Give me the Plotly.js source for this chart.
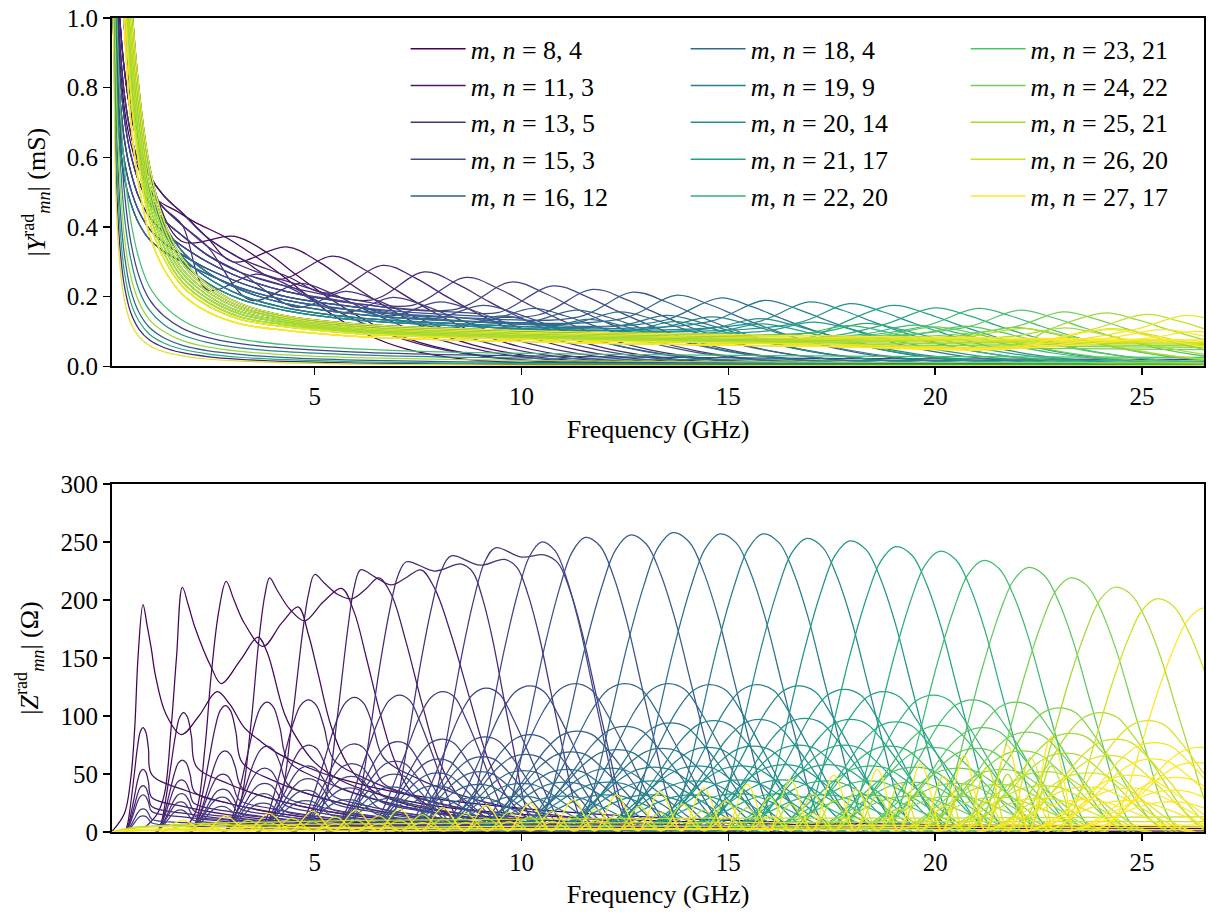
<!DOCTYPE html>
<html><head><meta charset="utf-8">
<script src="https://cdn.plot.ly/plotly-3.0.1.min.js"></script>
<style>body{margin:0;background:#fff}#chart{width:1208px;height:916px}</style>
</head><body><div id="chart"></div>
<script>
// ================= DATA =================
// legend labels (m, n)
const legendM = [8,11,13,15,16,18,19,20,21,22,23,24,25,26,27];
const legendN = [4,3,5,3,12,4,9,14,17,20,21,22,21,20,17];

// ---- |Z| panel: main resonances (GHz, Ohm) ----
const zMainF = [0.85,1.80,2.86,3.91,5.00,6.11,7.22,8.30,9.37,10.48,11.54,12.62,13.65,14.79,15.83,16.88,17.93,19.04,20.10,21.15,22.24,23.27,24.34,25.35,26.47];
const zMainV = [196,211,216,219,222,226,233,238,245,250,254,256,258,257,257,253,251,246,242,234,228,219,211,201,193];
// first six curves read point by point
const zEarlyF = [
 [0.1,0.4,0.55,0.65,0.73,0.85,0.95,1.05,1.15,1.4,1.78,2.2,2.64,2.95,3.3,3.7,4.1,4.8,5.6,7,9,12,16,21,26.5],
 [0.9,1.2,1.37,1.53,1.66,1.8,1.95,2.1,2.5,2.74,3.2,3.63,3.85,4.27,4.6,5.0,5.6,6.5,8,11,16,26.5],
 [1.9,2.15,2.34,2.5,2.68,2.86,3.05,3.3,3.75,4.2,4.6,4.85,5.08,5.4,5.8,6.3,7.2,9,13,26.5],
 [2.9,3.2,3.45,3.65,3.8,3.91,4.1,4.4,4.76,5.2,5.65,5.95,6.25,6.6,6.95,7.4,8.2,10,26.5],
 [3.8,4.15,4.45,4.7,4.85,5.0,5.25,5.55,5.9,6.25,6.55,6.85,7.2,7.6,8.0,8.5,9.2,11,26.5],
 [5.0,5.3,5.55,5.8,5.95,6.11,6.45,6.85,7.2,7.57,7.9,8.3,8.75,9.2,9.7,10.3,11.5]
];
const zEarlyV = [
 [0.5,16,45,90,151,196,178,158,135,102,84,100,121,110,90,78,68,56,46,34,24,15,9,6,4],
 [4,16,33,90,151,211,195,177,142,128,148,168,155,102,79,60,45,33,22,13,7,3],
 [4,20,70,136,190,216,200,180,160,180,194,170,137,91,58,38,24,14,7,2],
 [4,25,90,165,205,219,208,192,182,198,210,190,150,100,60,32,16,8,2],
 [5,25,95,170,205,222,214,205,201,210,219,205,165,110,62,30,12,4,1],
 [5,35,100,175,210,226,220,213,219,226,210,170,115,62,28,9,2]
];
// plateau dips / second humps of curves 7-9
const zDipF  = [7.9, 9.0, 10.0];
const zDipV  = [225, 230, 237];
const zHumpF = [8.55, 9.59, 10.55];
const zHumpV = [231, 235, 239];
// lower resonance families
const zF2 = [0.85,1.83,2.84,3.85,4.85,5.96,7.05,8.10,9.15,10.20,11.30,12.50,13.55,14.55,15.70,16.70,17.80,18.75,19.95,20.90,21.95,23.00,24.00,25.15];
const zV2 = [90,103,109,112,114,116,118,121,124,126,128,128,128,127,127,126,123,121,118,114,112,107,103,96];
const zF3 = [0.85,1.80,2.83,3.85,4.86,5.95,7.00,8.08,9.12,10.20,11.35,12.50,13.60,14.65,15.75,16.85,17.95,19.05,20.10,21.15,22.22,23.27,24.35,25.30,26.40];
const zV3 = [54,62,70,74,75,76,78,80,82,84,87,91,94,96,97,98,97,95,92,90,86,85,80,77,73];
const zF4 = [0.85,1.78,2.78,3.79,4.84,5.90,6.95,8.0,9.05,10.1,11.2,12.3,13.4,14.5,15.6,16.7,17.8,18.9,19.95,21.0,22.1,23.15,24.2,25.25,26.3];
const zV4 = [40,45,50,55,57,59,61,63,65,67,69,71,72,73,74,75,75,74,73,72,70,68,66,63,60];
const zF5 = [0.85,1.78,2.78,3.79,4.84,5.88,6.92,7.97,9.0,10.05,11.1,12.15,13.2,14.25,15.3,16.35,17.4,18.45,19.5,20.55,21.6,22.65,23.7,24.75,25.8];
const zV5 = [32,33,37,42,46,48,50,51,52,53,54,55,56,57,57,58,58,57,56,55,54,52,51,49,47];
const zF6 = [0.85,1.76,2.76,3.77,4.8,5.84,6.88,7.92,8.96,10.0,11.05,12.1,13.15,14.2,15.25,16.3,17.35,18.4,19.45,20.5,21.55,22.6,23.65,24.7,25.75];
const zV6 = [20,26,30,33,36,38,39,40,41,42,43,43,44,44,45,45,44,44,43,42,41,40,39,38,36];
const zF7 = [0.85,1.75,2.75,3.75,4.78,5.8,6.84,7.88,8.92,9.96,11.0,12.05,13.1,14.15,15.2,16.25,17.3,18.35,19.4,20.45,21.5,22.55,23.6,24.65,25.7];
const zV7 = [14,19,22,25,27,28,29,30,30,31,31,32,32,32,33,33,32,32,31,31,30,29,28,27,26];
// small side lobes of the last curves
const zSideF  = [1.82,2.85,3.9,4.95,6.0,7.05,8.1,9.15,10.2,11.25,12.3,13.35,14.4,15.45,16.5,17.55,18.6,19.65,20.7,21.75,22.8];
const zSide1  = [10,14,16,18,19,20,21,23,25,28,32,35,38,41,45,49,54,59,66,75,82];
const zSide3  = [5,7,8,9,10,10,11,12,13,14,15,17,19,21,24,27,31,36,42,50,57];
const zSide2F = [2.35,3.4,4.45,5.5,6.55,7.6,8.65,9.7,10.75,11.8,12.85,13.9,14.95,16.0,17.05,18.1,19.15,20.2,21.25,22.3];
const zSide2  = [7,10,12,13,14,15,16,17,18,20,22,24,27,30,33,37,42,48,56,64];
const zSide4  = [3,5,6,7,7,8,8,9,9,10,11,12,13,14,16,18,20,23,27,32];
// near-zero floor curves
const zFloorF = [0.1,0.6,1.5,3,6,10,15,20,26.5];
const zFloor = [
 [0,2,3,4,4,5,5,6,6],
 [0,1,2,2,3,3,3,4,4],
 [0,3,5,6,7,8,8,9,9],
 [0,1,1,1,1,2,2,2,2],
 [0,4,6,8,10,11,12,12,13]
];

// ---- |Y| panel (mS) ----
const yBandF = [0.1,0.13,0.17,0.22,0.3,0.4,0.55,0.75,1.0,1.35,1.8,2.4,3.2,4.3,6.0,8.5,12,17,22,26.5];
// decay lines, from the highest (purple) to the lowest (yellow) level
const yU1 = [1.9,1.6,1.35,1.15,0.98,0.85,0.73,0.63,0.55,0.49,0.44,0.37,0.31,0.26,0.22,0.19,0.16,0.14,0.13,0.12];
const yU2 = [1.75,1.47,1.25,1.07,0.91,0.78,0.67,0.58,0.51,0.455,0.405,0.345,0.29,0.245,0.205,0.175,0.15,0.133,0.124,0.115];
const yU3 = [1.6,1.35,1.15,0.98,0.83,0.71,0.61,0.53,0.47,0.42,0.375,0.32,0.27,0.23,0.19,0.165,0.142,0.127,0.118,0.11];
const yU4 = [1.45,1.22,1.04,0.89,0.76,0.65,0.56,0.485,0.43,0.385,0.345,0.3,0.255,0.215,0.18,0.155,0.135,0.12,0.112,0.105];
const yU5 = [1.3,1.1,0.94,0.81,0.69,0.59,0.51,0.445,0.395,0.355,0.32,0.28,0.24,0.2,0.17,0.147,0.128,0.115,0.107,0.1];
const yU6 = [1.15,0.98,0.84,0.73,0.63,0.54,0.47,0.41,0.365,0.33,0.3,0.265,0.225,0.19,0.16,0.14,0.122,0.11,0.102,0.095];
const yM1 = [3.0,2.4,1.9,1.55,1.22,0.97,0.77,0.62,0.5,0.41,0.33,0.27,0.22,0.18,0.15,0.13,0.115,0.105,0.098,0.093];
const yM2 = [3.5,2.8,2.2,1.75,1.36,1.06,0.82,0.64,0.51,0.4,0.315,0.255,0.205,0.168,0.14,0.122,0.108,0.099,0.093,0.088];
const yM3 = [4.2,3.3,2.55,2.0,1.52,1.16,0.87,0.66,0.5,0.39,0.3,0.24,0.193,0.16,0.133,0.116,0.103,0.094,0.088,0.083];
const yK = [
 [6,4.6,3.5,2.7,2.0,1.5,1.09,0.8,0.58,0.42,0.31,0.235,0.18,0.145,0.122,0.108,0.097,0.088,0.081,0.076],
 [5.7,4.4,3.35,2.57,1.9,1.42,1.03,0.76,0.55,0.4,0.295,0.225,0.172,0.14,0.117,0.103,0.093,0.084,0.077,0.072],
 [5.5,4.2,3.2,2.45,1.8,1.35,0.98,0.72,0.52,0.38,0.28,0.215,0.165,0.135,0.112,0.099,0.089,0.08,0.074,0.069],
 [5.2,4.0,3.05,2.32,1.71,1.28,0.93,0.68,0.495,0.362,0.268,0.205,0.157,0.13,0.108,0.095,0.085,0.077,0.071,0.066],
 [5,3.8,2.9,2.2,1.62,1.21,0.88,0.65,0.47,0.345,0.255,0.195,0.15,0.125,0.104,0.091,0.081,0.073,0.067,0.063],
 [4.7,3.6,2.75,2.1,1.54,1.15,0.83,0.61,0.445,0.327,0.242,0.185,0.142,0.119,0.099,0.087,0.077,0.069,0.063,0.059],
 [4.5,3.45,2.6,2.0,1.46,1.09,0.79,0.58,0.42,0.31,0.23,0.175,0.135,0.113,0.094,0.082,0.072,0.064,0.058,0.054],
 [4,3.1,2.35,1.8,1.31,0.98,0.71,0.52,0.38,0.28,0.207,0.157,0.122,0.103,0.086,0.075,0.066,0.058,0.052,0.048]
];
const yL = [
 [1.6,1.0,0.62,0.42,0.28,0.19,0.125,0.085,0.06,0.042,0.03,0.021,0.015,0.01,0.006,0.004,0.003,0.002,0.002,0.002],
 [1.75,1.12,0.72,0.49,0.33,0.23,0.155,0.107,0.076,0.054,0.039,0.028,0.02,0.014,0.009,0.006,0.005,0.004,0.003,0.003],
 [1.9,1.24,0.82,0.57,0.39,0.27,0.185,0.13,0.093,0.067,0.049,0.036,0.026,0.019,0.013,0.009,0.007,0.006,0.005,0.005],
 [2.05,1.36,0.92,0.65,0.45,0.32,0.22,0.155,0.112,0.082,0.06,0.045,0.034,0.025,0.018,0.013,0.01,0.008,0.007,0.007],
 [2.2,1.48,1.02,0.73,0.52,0.37,0.26,0.185,0.135,0.1,0.074,0.056,0.043,0.033,0.025,0.019,0.015,0.012,0.011,0.01],
 [2.35,1.6,1.12,0.82,0.59,0.43,0.31,0.22,0.162,0.12,0.09,0.069,0.053,0.042,0.033,0.026,0.021,0.018,0.016,0.015],
 [2.5,1.72,1.22,0.91,0.67,0.5,0.36,0.26,0.193,0.145,0.109,0.083,0.065,0.052,0.041,0.033,0.027,0.023,0.021,0.02],
 [2.65,1.85,1.33,1.0,0.75,0.57,0.42,0.31,0.23,0.175,0.132,0.1,0.078,0.062,0.05,0.04,0.034,0.03,0.027,0.026]
];
const yTopF = [0.1,0.14,0.2,0.3,0.45,0.7,0.95,1.17,1.7,2.1,2.9,3.71,4.27,4.76,5.4,6.2,7.2,8.5,10.5,14];
const yTopV = [1.7,1.35,1.08,0.86,0.7,0.58,0.52,0.48,0.443,0.414,0.367,0.304,0.256,0.209,0.15,0.095,0.05,0.022,0.008,0.002];
const yHumpF = [3.07,4.32,5.44,6.65,7.65,8.66,9.75,10.76,11.72,12.69,13.74,14.79,15.87,16.96,17.93,18.98,19.99,21.03,22.04,23.09,24.1,25.1,26.07];
const yHumpV = [0.373,0.343,0.316,0.290,0.271,0.255,0.242,0.231,0.221,0.213,0.204,0.196,0.189,0.185,0.180,0.175,0.168,0.166,0.161,0.156,0.153,0.149,0.146];
const yTroughV = [0.36,0.30,0.25,0.21,0.19,0.175,0.165,0.155,0.148,0.142,0.137,0.133,0.129,0.126,0.123,0.12,0.117,0.115,0.112,0.11,0.108,0.106,0.104];
const yH2F = [3.6,4.65,5.75,6.9,8.02,9.06,10.27,11.32,12.37,13.5,14.6,15.75,17.04,18.33,19.5,20.7,21.9,23.1,24.3,25.5];
const yH2V = [0.265,0.238,0.215,0.198,0.185,0.175,0.166,0.161,0.156,0.146,0.142,0.137,0.127,0.123,0.118,0.115,0.112,0.11,0.108,0.105];
const yH2Tr = [0.22,0.19,0.17,0.155,0.145,0.137,0.13,0.126,0.122,0.115,0.112,0.108,0.1,0.097,0.093,0.091,0.089,0.087,0.085,0.083];
const yH3F = [9.5,11.6,13.7,15.8,17.9,20.0,22.1,24.2,26.3];
const yH3V = [0.145,0.135,0.128,0.122,0.117,0.113,0.109,0.105,0.1];
const yH3Tr = [0.11,0.105,0.1,0.096,0.092,0.09,0.087,0.084,0.08];

// resonance shape tables (offset GHz, fraction of peak)
const profMainL = [[-2.4,0],[-2.1,0.06],[-1.8,0.2],[-1.5,0.38],[-1.1,0.62],[-0.7,0.82],[-0.35,0.95]];
const profMainR = [[0.4,0.97],[0.75,0.87],[1.1,0.72],[1.5,0.5],[1.9,0.28],[2.2,0.12],[2.5,0.03],[2.8,0]];
const profFam = [[-2.6,0],[-2.2,0.1],[-1.8,0.28],[-1.3,0.55],[-0.8,0.82],[-0.4,0.96],[0,1],[0.4,0.96],[0.8,0.8],[1.3,0.55],[1.8,0.28],[2.2,0.1],[2.6,0]];
const profTail = [[0.8,0.4],[1.8,0.28],[3.2,0.17],[5.5,0.08],[9,0.03]];
const yPost = [[0.8,0.87],[1.5,0.7],[2.3,0.52],[3.3,0.33],[4.5,0.18],[6,0.08],[8,0.03],[11,0.01]];

// ================= STYLE / BUILD =================
const VIR = [[0,'#440154'],[0.1,'#482475'],[0.2,'#414487'],[0.3,'#355f8d'],[0.4,'#2a788e'],[0.5,'#21918c'],[0.6,'#22a884'],[0.7,'#44bf70'],[0.8,'#7ad151'],[0.9,'#bddf26'],[1,'#fde725']];
function h2r(h){return [parseInt(h.substr(1,2),16),parseInt(h.substr(3,2),16),parseInt(h.substr(5,2),16)];}
function viridis(t){t=Math.max(0,Math.min(1,t));
 for(let i=0;i<VIR.length-1;i++){ if(t<=VIR[i+1][0]){const a=h2r(VIR[i][1]),b=h2r(VIR[i+1][1]);const u=(t-VIR[i][0])/(VIR[i+1][0]-VIR[i][0]);
  return 'rgb('+a.map((v,k)=>Math.round(v+(b[k]-v)*u)).join(',')+')';}}
 return VIR[VIR.length-1][1];}
const tOf = f => Math.min(1, Math.pow(f/26.5, 1.7));

const zCurves=[], yCurves=[];
// main Z curves
zMainF.forEach((P,i)=>{
  const V=zMainV[i]; let xs=[], ys=[];
  if(i<zEarlyF.length){ xs=zEarlyF[i].slice(); ys=zEarlyV[i].slice(); }
  else {
    const w=Math.min(1,0.04+0.075*P);
    profMainL.forEach(([o,f])=>{xs.push(P+o*w); ys.push(V*f);});
    xs.push(P); ys.push(V);
    let Pe=P, Ve=V; const k=i-zEarlyF.length;
    if(k<zDipF.length){ xs.push(zDipF[k]); ys.push(zDipV[k]); xs.push(zHumpF[k]); ys.push(zHumpV[k]); Pe=zHumpF[k]; Ve=zHumpV[k]; }
    const w2=Math.min(1,0.04+0.075*Pe);
    profMainR.forEach(([o,f])=>{xs.push(Pe+o*w2); ys.push(Ve*f);});
  }
  zCurves.push({x:xs,y:ys,t:tOf(P)});
});
// lower families
[[zF2,zV2],[zF3,zV3],[zF4,zV4],[zF5,zV5],[zF6,zV6],[zF7,zV7]].forEach(([F,V],k)=>{
  F.forEach((P,j)=>{
    const h=V[j], w=Math.min(1,0.1+0.075*P), xs=[], ys=[];
    profFam.forEach(([o,f])=>{ if(P<6 && o>1.3) return; xs.push(P+o*w); ys.push(h*f); });
    if(P<6){ const b=P+1.3*w; profTail.forEach(([o,f])=>{xs.push(b+o); ys.push(h*f);}); }
    zCurves.push({x:xs,y:ys,t:Math.min(1,tOf(P)+0.03*(k+1))});
  });
});
// side lobes
const sideSets=[[zSideF,zSide1],[zSide2F,zSide2],[zSideF,zSide3],[zSide2F,zSide4]];
const sideT=[1.0,0.94,0.89,0.97];
sideSets.forEach(([F,H],k)=>{
  const xs=[F[0]-0.52], ys=[0];
  F.forEach((f,j)=>{ xs.push(f); ys.push(H[j]); xs.push(f+0.52); ys.push(1); });
  zCurves.push({x:xs,y:ys,t:sideT[k]});
});
const floorT=[1.0,0.97,0.93,0.99,0.9];
zFloor.forEach((v,k)=>zCurves.push({x:zFloorF,y:v,t:floorT[k]}));

// Y curves
yCurves.push({x:yTopF,y:yTopV,t:0});
const preLines=[yU1,yU2,yU3,yU4,yU5,yU6,yM1,yM2,yM3].concat(yK);
const humps=[];
yHumpF.forEach((Fh,j)=>humps.push({F:Fh,V:yHumpV[j],tr:yTroughV[j],d:1.3,t:tOf(Fh)}));
yH2F.forEach((Fh,j)=>humps.push({F:Fh,V:yH2V[j],tr:yH2Tr[j],d:1.2,t:Math.min(1,tOf(Fh)+0.08)}));
yH3F.forEach((Fh,j)=>humps.push({F:Fh,V:yH3V[j],tr:yH3Tr[j],d:1.2,t:Math.min(1,tOf(Fh)+0.15)}));
humps.sort((a,b)=>a.t-b.t);
humps.forEach((h,r)=>{
  const line=preLines[Math.min(preLines.length-1,Math.floor(r*preLines.length/humps.length))];
  const Ftr=h.F-h.d, xs=[], ys=[];
  yBandF.forEach((f,k)=>{ if(f<Ftr-0.6){xs.push(f); ys.push(line[k]);} });
  xs.push(Ftr); ys.push(h.tr); xs.push(h.F); ys.push(h.V);
  yPost.forEach(([o,fr])=>{xs.push(h.F+o); ys.push(h.V*fr);});
  yCurves.push({x:xs,y:ys,t:h.t});
});
const kT=[1.0,0.97,0.94,0.91,0.88,0.85,0.82,0.79];
yK.forEach((v,k)=>yCurves.push({x:yBandF,y:v,t:kT[k]}));
const lT=[0.95,0.1,0.6,0.3,0.85,0.45,0.2,0.7];
yL.forEach((v,k)=>yCurves.push({x:yBandF,y:v,t:lT[k]}));

const traces=[];
function addCurves(list, xa, ya){
  list.slice().sort((a,b)=>a.t-b.t).forEach(c=>{
    traces.push({type:'scatter',mode:'lines',x:c.x,y:c.y,xaxis:xa,yaxis:ya,
      line:{color:viridis(c.t),width:1.25,shape:'spline',smoothing:1},showlegend:false,hoverinfo:'skip'});
  });
}
addCurves(yCurves,'x','y');
addCurves(zCurves,'x2','y2');
legendM.forEach((m,i)=>{
  traces.push({type:'scatter',mode:'lines',x:[null],y:[null],xaxis:'x',yaxis:'y',
    name:'<i>m</i>, <i>n</i> = '+m+', '+legendN[i],
    legend: i<5?'legend':(i<10?'legend2':'legend3'), legendgroup:'g'+i,
    line:{color:viridis(i/14),width:1.5}, hoverinfo:'skip'});
});

const FONT='"Liberation Serif", "Times New Roman", serif';
function xax(anchor){return {anchor:anchor,domain:[0,1],range:[0.1,26.5],tickvals:[5,10,15,20,25],ticks:'outside',ticklen:7,tickwidth:1.5,tickcolor:'black',
  showline:true,mirror:true,linecolor:'black',linewidth:2,showgrid:false,zeroline:false,
  title:{text:'Frequency (GHz)',standoff:10,font:{size:26}}};}
function yax(anchor,dom,rng,vals,fmt,title){return {anchor:anchor,domain:dom,range:rng,tickvals:vals,tickformat:fmt,ticks:'outside',ticklen:7,tickwidth:1.5,tickcolor:'black',
  showline:true,mirror:true,linecolor:'black',linewidth:2,showgrid:false,zeroline:false,
  title:{text:title,standoff:14,font:{size:26}}};}
const legBase={xanchor:'left',yanchor:'top',y:0.991,bgcolor:'rgba(0,0,0,0)',borderwidth:0,font:{size:26,family:FONT},tracegroupgap:5.5,traceorder:'normal',itemwidth:55};
const layout={
  width:1208,height:916,margin:{l:112,r:4,t:18,b:84},paper_bgcolor:'white',plot_bgcolor:'white',
  font:{family:FONT,size:25,color:'black'},
  xaxis:xax('y'),
  yaxis:yax('x',[0.5721,1],[0,1],[0,0.2,0.4,0.6,0.8,1.0],'.1f','|<i>Y</i><sup>rad</sup><sub><i>mn</i></sub>| (mS)'),
  xaxis2:xax('y2'),
  yaxis2:yax('x2',[0,0.4275],[0,300],[0,50,100,150,200,250,300],'d','|<i>Z</i><sup>rad</sup><sub><i>mn</i></sub>| (Ω)'),
  legend:Object.assign({x:0.2689},legBase),
  legend2:Object.assign({x:0.5253},legBase),
  legend3:Object.assign({x:0.7817},legBase),
  showlegend:true
};
Plotly.newPlot('chart',traces,layout,{displayModeBar:false,staticPlot:true});
</script>
</body></html>
